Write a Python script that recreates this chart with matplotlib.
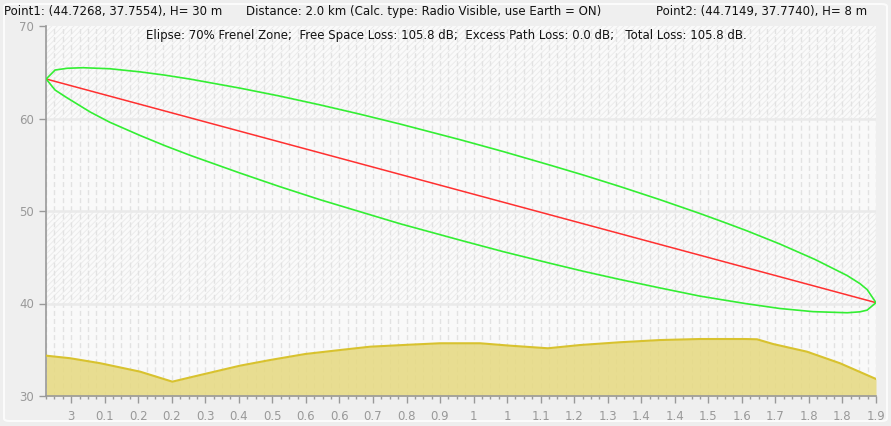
import numpy as np
import matplotlib.pyplot as plt
from matplotlib.patches import FancyBboxPatch

plt.rcParams['font.family'] = ['DejaVu Sans']
plt.rcParams['hatch.linewidth'] = 0.7

# path profile, distance in km, height in m
ground_km = [0.000, 0.057, 0.128, 0.222, 0.298, 0.364, 0.458, 0.529, 0.612, 0.694,
             0.765, 0.860, 0.930, 1.025, 1.096, 1.185, 1.261, 1.355, 1.450, 1.544,
             1.651, 1.679, 1.717, 1.797, 1.875, 1.960]
ground_m = [34.36, 34.08, 33.54, 32.63, 31.55, 32.27, 33.28, 33.89, 34.54, 34.97,
            35.33, 35.55, 35.70, 35.70, 35.44, 35.16, 35.51, 35.81, 36.05, 36.16,
            36.16, 36.13, 35.62, 34.79, 33.54, 31.84]

los_km = [0.0, 1.96]
los_m = [64.27, 40.09]

upper_km = [0.0, 0.021, 0.050, 0.087, 0.150, 0.222, 0.280, 0.340, 0.458, 0.550, 0.647,
            0.740, 0.836, 0.980, 1.080, 1.190, 1.270, 1.355, 1.450, 1.544, 1.600,
            1.655, 1.733, 1.816, 1.892, 1.922, 1.939, 1.960]
upper_m = [64.27, 65.24, 65.43, 65.49, 65.38, 65.04, 64.69, 64.26, 63.28, 62.44, 61.47,
           60.48, 59.40, 57.68, 56.42, 54.96, 53.87, 52.65, 51.22, 49.73, 48.80,
           47.86, 46.43, 44.76, 43.02, 42.15, 41.51, 40.09]

lower_km = [0.0, 0.021, 0.045, 0.104, 0.150, 0.222, 0.280, 0.340, 0.458, 0.550, 0.647,
            0.740, 0.836, 0.980, 1.080, 1.190, 1.270, 1.355, 1.450, 1.544, 1.600,
            1.655, 1.733, 1.811, 1.892, 1.922, 1.939, 1.960]
lower_m = [64.27, 63.08, 62.36, 60.70, 59.60, 58.16, 57.07, 56.02, 54.10, 52.66, 51.22,
           49.94, 48.62, 46.82, 45.60, 44.35, 43.47, 42.60, 41.68, 40.80, 40.38,
           39.97, 39.46, 39.12, 39.00, 39.10, 39.28, 40.09]

x_labels = ['3', '0.1', '0.2', '0.2', '0.3', '0.4', '0.5', '0.6', '0.6', '0.7', '0.8', '0.9',
            '1', '1', '1.1', '1.2', '1.3', '1.4', '1.4', '1.5', '1.6', '1.7', '1.8', '1.8', '1.9']
y_ticks = [30, 40, 50, 60, 70]

header_left = "Point1: (44.7268, 37.7554), H= 30 m"
header_mid = "Distance: 2.0 km (Calc. type: Radio Visible, use Earth = ON)"
header_right = "Point2: (44.7149, 37.7740), H= 8 m"
info = ("Elipse: 70% Frenel Zone;  Free Space Loss: 105.8 dB;  "
        "Excess Path Loss: 0.0 dB;   Total Loss: 105.8 dB.")

fig = plt.figure(figsize=(8.91, 4.26), dpi=100, facecolor='#eeeeee')
panel = FancyBboxPatch((4 / 891, 5 / 426), 883 / 891, 417 / 426,
                       boxstyle='round,pad=0,rounding_size=0.006',
                       transform=fig.transFigure, facecolor='#efefef',
                       edgecolor='#fbfbfb', lw=1.5, zorder=-10)
fig.patches.append(panel)

ax = fig.add_axes([46 / 891, 30 / 426, 830 / 891, 370 / 426])
ax.set_facecolor('#f9f9f9')
ax.set_xlim(0, 1.96)
ax.set_ylim(30, 70)

# alternating bands
for lo in (40, 60):
    ax.axhspan(lo, lo + 10, facecolor='#fafafa', edgecolor='#ebebeb',
               hatch='//////', lw=0, zorder=0)

xt = np.linspace(0.059, 1.96, len(x_labels))
step = xt[1] - xt[0]
minor = np.arange(xt[0] - 3 * step / 4, 1.961, step / 4)
for x in minor:
    ax.axvline(x, color='#e2e2e2', lw=1, ls=(0, (3.6, 2.2)), zorder=1)
for y in y_ticks[1:-1]:
    ax.axhline(y, color='#eaeaea', lw=1.8, zorder=1)

ax.fill_between(ground_km, ground_m, 30, color='#e6d97f', alpha=0.85, lw=0, zorder=2)
ax.plot(ground_km, ground_m, color='#d8c22e', lw=1.5, zorder=3)

ax.plot(los_km, los_m, color='#ff3030', lw=1.1, zorder=4)
ax.plot(upper_km, upper_m, color='#33ee33', lw=1.2, zorder=4)
ax.plot(lower_km, lower_m, color='#33ee33', lw=1.2, zorder=4)

ax.set_xticks(xt)
ax.set_xticklabels(x_labels)
ax.set_xticks(minor, minor=True)
ax.set_yticks(y_ticks)
for s in ('top', 'right'):
    ax.spines[s].set_visible(False)
for s in ('left', 'bottom'):
    ax.spines[s].set_color('#999999')
    ax.spines[s].set_linewidth(1.2)
ax.tick_params(axis='both', which='major', colors='#999999', labelsize=8.5,
               length=5, width=1)
ax.tick_params(axis='x', which='minor', colors='#999999', length=2.5, width=1)
ax.tick_params(axis='x', pad=5)

fig.text(4 / 891, 1 - 12 / 426, header_left, fontsize=8.5, va='center', color='#111111')
fig.text(246 / 891, 1 - 12 / 426, header_mid, fontsize=8.5, va='center', color='#111111')
fig.text(656 / 891, 1 - 12 / 426, header_right, fontsize=8.5, va='center', color='#111111')
fig.text(146 / 891, 1 - 36 / 426, info, fontsize=8.5, va='center', color='#111111')

fig.savefig('out.png', dpi=100, facecolor=fig.get_facecolor())
